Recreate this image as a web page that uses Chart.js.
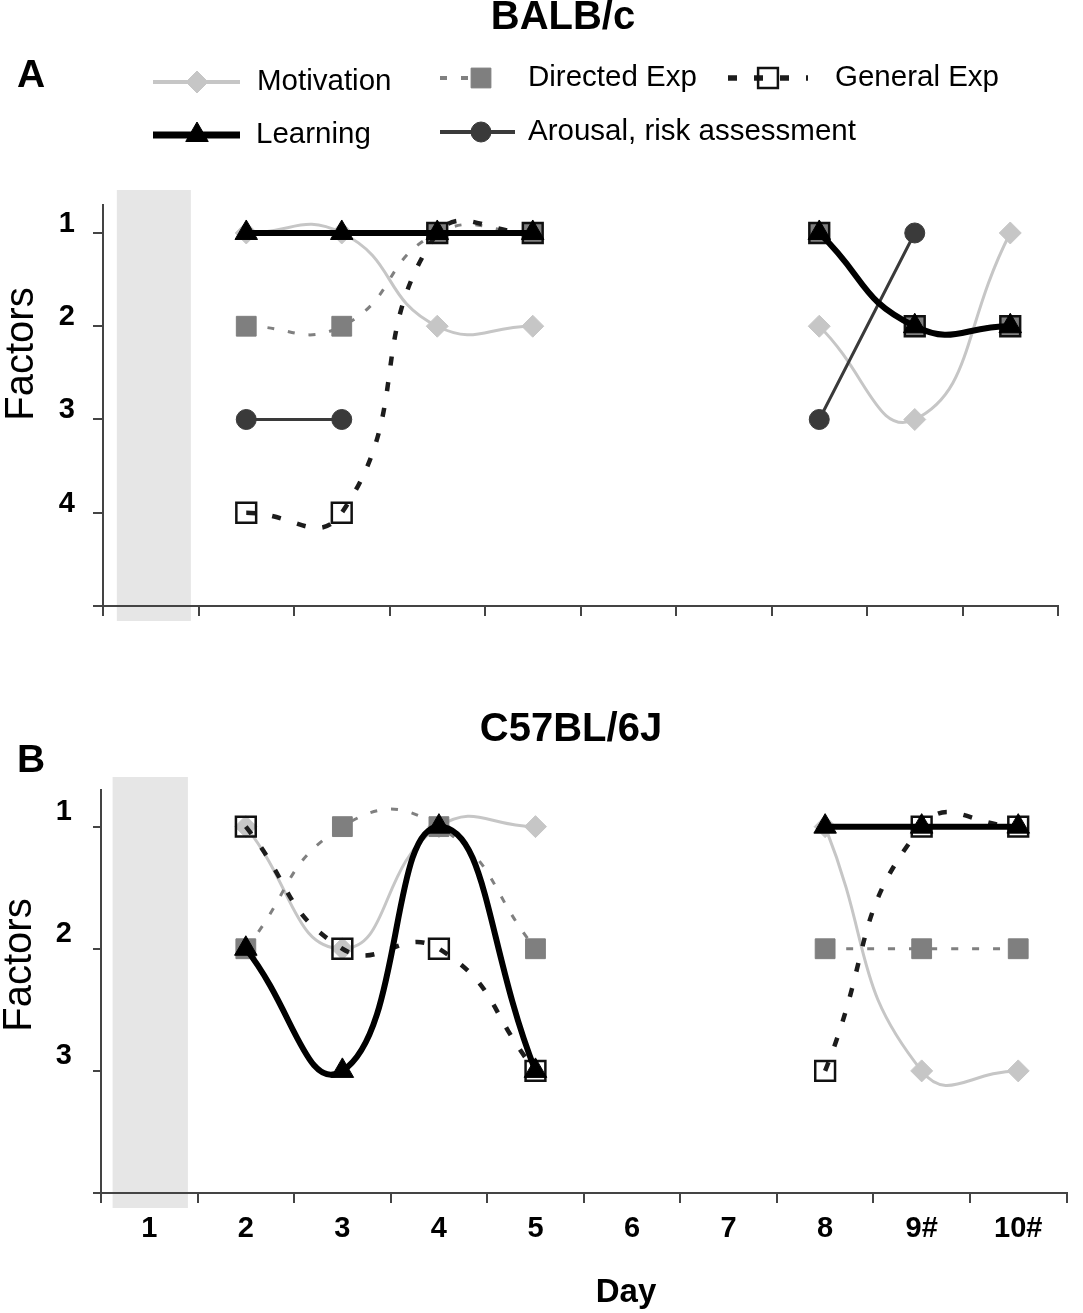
<!DOCTYPE html>
<html>
<head>
<meta charset="utf-8">
<script src="https://cdn.jsdelivr.net/npm/chart.js@4.4.1/dist/chart.umd.min.js"></script>
<style>
  body { margin: 0; background: #fff; }
  .wrap { position: relative; width: 1083px; height: 1313px; }
  canvas { position: absolute; left: 0; }
  #chartA { top: 0; }
  #chartB { top: 650px; }
</style>
</head>
<body>
<div class="wrap">
  <canvas id="chartA" width="1083" height="650"></canvas>
  <canvas id="chartB" width="1083" height="663"></canvas>
</div>
<script>
// days on the x axis
const days = ['1', '2', '3', '4', '5', '6', '7', '8', '9#', '10#'];
const seriesNames = ['Motivation', 'Directed Exp', 'General Exp', 'Learning', 'Arousal, risk assessment'];

// BALB/c factor ranks
const balbMotivation = [null, 1, 1, 2, 2, null, null, 2, 3, 1];
const balbDirected   = [null, 2, 2, 1, 1, null, null, 1, 2, 2];
const balbGeneral    = [null, 4, 4, 1, 1, null, null, 1, 2, 2];
const balbLearning   = [null, 1, 1, 1, 1, null, null, 1, 2, 2];
const balbArousal    = [null, 3, 3, null, null, null, null, 3, 1, null];

// C57BL/6J factor ranks
const c57Motivation = [null, 1, 2, 1, 1, null, null, 1, 3, 3];
const c57Directed   = [null, 2, 1, 1, 2, null, null, 2, 2, 2];
const c57General    = [null, 1, 2, 2, 3, null, null, 3, 1, 1];
const c57Learning   = [null, 2, 3, 1, 3, null, null, 1, 1, 1];

const yTicksA = [1, 2, 3, 4, 5];
const yLabelsA = ['1', '2', '3', '4', ''];
const yTicksB = [1, 2, 3, 4];
const yLabelsB = ['1', '2', '3', ''];

const FONT = "'Liberation Sans', Arial, Helvetica, sans-serif";
const AXIS = '#444';

const styles = {
  'Motivation': { borderColor: '#c6c6c6', borderWidth: 3, pointStyle: 'rectRot', pointRadius: 11,
    pointBackgroundColor: '#c6c6c6', pointBorderColor: '#c6c6c6', pointBorderWidth: 1, tension: 0.5, order: 4 },
  'Directed Exp': { borderColor: '#808080', borderWidth: 3, borderDash: [7, 14], pointStyle: 'rect', pointRadius: 14,
    pointBackgroundColor: '#7f7f7f', pointBorderColor: '#7f7f7f', pointBorderWidth: 1, tension: 0.5, order: 2 },
  'General Exp': { borderColor: '#1c1c1c', borderWidth: 4.5, borderDash: [9, 17], pointStyle: 'rect', pointRadius: 14,
    pointBackgroundColor: 'rgba(0,0,0,0)', pointBorderColor: '#111', pointBorderWidth: 2.5, tension: 0.5, order: 1 },
  'Learning': { borderColor: '#000', borderWidth: 6, pointStyle: 'triangle', pointRadius: 13,
    pointBackgroundColor: '#000', pointBorderColor: '#000', pointBorderWidth: 1, tension: 0.5, order: 0 },
  'Arousal, risk assessment': { borderColor: '#3a3a3a', borderWidth: 3, pointStyle: 'circle', pointRadius: 10,
    pointBackgroundColor: '#3a3a3a', pointBorderColor: '#3a3a3a', pointBorderWidth: 1, tension: 0, order: 3 }
};

function makeSet(name, data) {
  return Object.assign({ label: name, data: data, fill: false, spanGaps: false, pointHoverRadius: 0 }, styles[name]);
}

function drawMarker(ctx, ds, x, y) {
  const r = ds.pointRadius;
  ctx.save();
  ctx.setLineDash([]);
  ctx.fillStyle = ds.pointBackgroundColor;
  ctx.strokeStyle = ds.pointBorderColor;
  ctx.lineWidth = ds.pointBorderWidth;
  ctx.beginPath();
  if (ds.pointStyle === 'rectRot') {
    ctx.moveTo(x, y - r); ctx.lineTo(x + r, y); ctx.lineTo(x, y + r); ctx.lineTo(x - r, y);
  } else if (ds.pointStyle === 'rect') {
    const s = r * Math.SQRT1_2;
    ctx.rect(x - s, y - s, 2 * s, 2 * s);
  } else if (ds.pointStyle === 'triangle') {
    ctx.moveTo(x, y - r); ctx.lineTo(x + r * 0.866, y + r * 0.5); ctx.lineTo(x - r * 0.866, y + r * 0.5);
  } else {
    ctx.arc(x, y, r, 0, Math.PI * 2);
  }
  ctx.closePath();
  ctx.fill();
  ctx.stroke();
  ctx.restore();
}

// grey band behind day 1
const bandPlugin = {
  id: 'band',
  beforeDraw(chart, args, opts) {
    const x = chart.scales.x, a = chart.chartArea, ctx = chart.ctx;
    const w = x.getPixelForValue(1) - x.getPixelForValue(0);
    const left = x.getPixelForValue(0) - w / 2;
    ctx.save();
    ctx.fillStyle = '#e6e6e6';
    ctx.fillRect(left + w * opts.from, a.top - opts.above, w * (opts.to - opts.from), a.bottom - a.top + opts.above + opts.below);
    ctx.restore();
  }
};

// titles, panel letters, axis titles, legend
const decorPlugin = {
  id: 'decor',
  afterDraw(chart, args, opts) {
    const ctx = chart.ctx;
    ctx.save();
    ctx.fillStyle = '#000';
    ctx.textBaseline = 'middle';
    ctx.textAlign = 'center';
    ctx.font = 'bold 40px ' + FONT;
    ctx.fillText(opts.title, opts.titleX, opts.titleY);
    ctx.font = 'bold 39px ' + FONT;
    ctx.fillText(opts.letter, opts.letterX, opts.letterY);
    if (opts.xTitle) {
      ctx.font = 'bold 33px ' + FONT;
      ctx.fillText(opts.xTitle, opts.xTitleX, opts.xTitleY);
    }
    ctx.save();
    ctx.translate(opts.yTitleX, opts.yTitleY);
    ctx.rotate(-Math.PI / 2);
    ctx.font = '40px ' + FONT;
    ctx.fillText('Factors', 0, 0);
    ctx.restore();

    if (opts.legend) {
      ctx.textAlign = 'left';
      ctx.font = '29.5px ' + FONT;
      opts.legend.forEach(item => {
        const ds = chart.data.datasets.find(d => d.label === item.label);
        ctx.save();
        ctx.strokeStyle = ds.borderColor;
        ctx.lineWidth = ds.borderWidth + 1;
        ctx.setLineDash(ds.borderDash || []);
        ctx.beginPath();
        ctx.moveTo(item.x1, item.y);
        ctx.lineTo(item.x2, item.y);
        ctx.stroke();
        ctx.restore();
        drawMarker(ctx, ds, item.mx, item.y);
        ctx.fillStyle = '#000';
        ctx.fillText(item.label, item.tx, item.y);
      });
    }
    ctx.restore();
  }
};

function axes(yMax, yTicks, yLabels, showX, yWidth, xHeight, tickLen, labelOffset, labelPad) {
  return {
    x: {
      type: 'category',
      offset: true,
      grid: { offset: true, drawOnChartArea: false, drawTicks: true, tickLength: 10, color: AXIS, lineWidth: 2 },
      border: { display: true, color: AXIS, width: 2 },
      ticks: { display: showX, color: '#000', padding: 9, maxRotation: 0, autoSkip: false,
        font: { family: FONT, size: 29, weight: 'bold' } },
      afterFit(s) { s.height = xHeight; }
    },
    y: {
      type: 'linear',
      reverse: true,
      min: 0.7,
      max: yMax,
      grid: { drawOnChartArea: false, drawTicks: true, tickLength: tickLen, color: AXIS, lineWidth: 2 },
      border: { display: true, color: AXIS, width: 2 },
      afterBuildTicks(s) { s.ticks = yTicks.map(v => ({ value: v })); },
      ticks: { color: '#000', padding: labelPad, labelOffset: labelOffset,
        font: { family: FONT, size: 29, weight: 'bold' },
        callback: (v) => yLabels[yTicks.indexOf(v)] },
      afterFit(s) { s.width = yWidth; }
    }
  };
}

new Chart(document.getElementById('chartA'), {
  type: 'line',
  data: {
    labels: days,
    datasets: [
      makeSet(seriesNames[0], balbMotivation),
      makeSet(seriesNames[1], balbDirected),
      makeSet(seriesNames[2], balbGeneral),
      makeSet(seriesNames[3], balbLearning),
      makeSet(seriesNames[4], balbArousal)
    ]
  },
  options: {
    responsive: false,
    animation: false,
    layout: { padding: { top: 205, right: 25, left: 0, bottom: 0 } },
    scales: axes(5, yTicksA, yLabelsA, false, 103, 44, 10, -9, 18),
    plugins: {
      legend: { display: false },
      tooltip: { enabled: false },
      band: { from: 0.145, to: 0.92, above: 15, below: 15 },
      decor: {
        title: 'BALB/c', titleX: 563, titleY: 18,
        letter: 'A', letterX: 31, letterY: 76,
        yTitleX: 22, yTitleY: 354,
        legend: [
          { label: 'Motivation', x1: 153, x2: 240, mx: 197, tx: 257, y: 82 },
          { label: 'Directed Exp', x1: 440, x2: 498, mx: 481, tx: 528, y: 78 },
          { label: 'General Exp', x1: 728, x2: 808, mx: 768, tx: 835, y: 78 },
          { label: 'Learning', x1: 153, x2: 240, mx: 197, tx: 256, y: 135 },
          { label: 'Arousal, risk assessment', x1: 440, x2: 515, mx: 481, tx: 528, y: 132 }
        ]
      }
    }
  },
  plugins: [bandPlugin, decorPlugin]
});

new Chart(document.getElementById('chartB'), {
  type: 'line',
  data: {
    labels: days,
    datasets: [
      makeSet(seriesNames[0], c57Motivation),
      makeSet(seriesNames[1], c57Directed),
      makeSet(seriesNames[2], c57General),
      makeSet(seriesNames[3], c57Learning)
    ]
  },
  options: {
    responsive: false,
    animation: false,
    layout: { padding: { top: 140, right: 3, left: 0, bottom: 0 } },
    scales: axes(4, yTicksB, yLabelsB, true, 101, 120, 8, -15, 21),
    plugins: {
      legend: { display: false },
      tooltip: { enabled: false },
      band: { from: 0.12, to: 0.9, above: 13, below: 15 },
      decor: {
        title: 'C57BL/6J', titleX: 571, titleY: 80,
        letter: 'B', letterX: 31, letterY: 111,
        yTitleX: 20, yTitleY: 315,
        xTitle: 'Day', xTitleX: 626, xTitleY: 643
      }
    }
  },
  plugins: [bandPlugin, decorPlugin]
});
</script>
</body>
</html>
